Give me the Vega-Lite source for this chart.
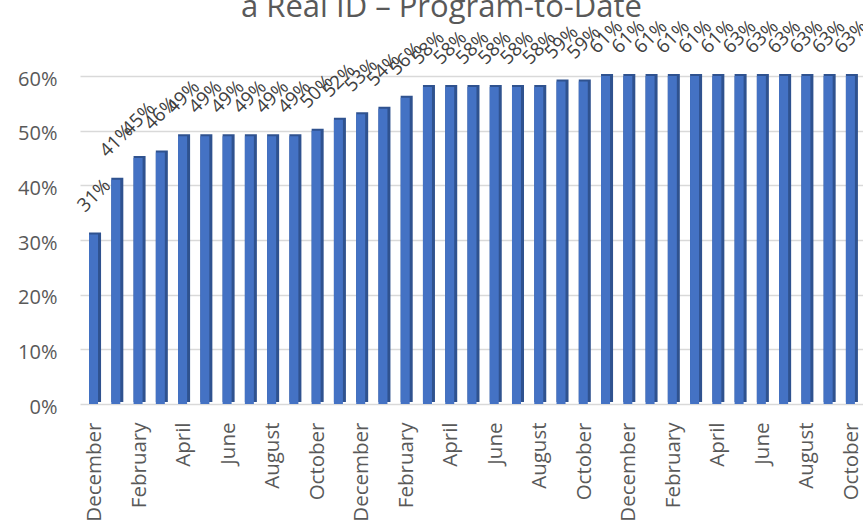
{
  "$schema": "https://vega.github.io/schema/vega-lite/v6.json",
  "autosize": "none",
  "width": 783,
  "height": 328,
  "padding": {"left": 80, "top": 76, "right": 0, "bottom": 119},
  "background": "white",
  "title": {
    "text": "a Real ID – Program-to-Date",
    "font": "Open Sans",
    "fontSize": 31,
    "fontWeight": "normal",
    "color": "#595959",
    "frame": "group",
    "anchor": "middle",
    "baseline": "alphabetic",
    "offset": -31,
    "dx": -30
  },
  "data": {
    "values": [
      {"period": "2017-12", "share": 0.31},
      {"period": "2018-01", "share": 0.41},
      {"period": "2018-02", "share": 0.45},
      {"period": "2018-03", "share": 0.46},
      {"period": "2018-04", "share": 0.49},
      {"period": "2018-05", "share": 0.49},
      {"period": "2018-06", "share": 0.49},
      {"period": "2018-07", "share": 0.49},
      {"period": "2018-08", "share": 0.49},
      {"period": "2018-09", "share": 0.49},
      {"period": "2018-10", "share": 0.50},
      {"period": "2018-11", "share": 0.52},
      {"period": "2018-12", "share": 0.53},
      {"period": "2019-01", "share": 0.54},
      {"period": "2019-02", "share": 0.56},
      {"period": "2019-03", "share": 0.58},
      {"period": "2019-04", "share": 0.58},
      {"period": "2019-05", "share": 0.58},
      {"period": "2019-06", "share": 0.58},
      {"period": "2019-07", "share": 0.58},
      {"period": "2019-08", "share": 0.58},
      {"period": "2019-09", "share": 0.59},
      {"period": "2019-10", "share": 0.59},
      {"period": "2019-11", "share": 0.61},
      {"period": "2019-12", "share": 0.61},
      {"period": "2020-01", "share": 0.61},
      {"period": "2020-02", "share": 0.61},
      {"period": "2020-03", "share": 0.61},
      {"period": "2020-04", "share": 0.61},
      {"period": "2020-05", "share": 0.63},
      {"period": "2020-06", "share": 0.63},
      {"period": "2020-07", "share": 0.63},
      {"period": "2020-08", "share": 0.63},
      {"period": "2020-09", "share": 0.63},
      {"period": "2020-10", "share": 0.63}
    ]
  },
  "encoding": {
    "x": {
      "field": "period",
      "type": "ordinal",
      "sort": null,
      "scale": {"paddingInner": 0.46, "paddingOuter": 0.317, "align": 0.64},
      "axis": {
        "title": null,
        "domain": false,
        "ticks": false,
        "tickSize": 0,
        "labelAngle": -90,
        "labelPadding": 18,
        "labelFont": "Open Sans",
        "labelFontSize": 20.5,
        "labelColor": "#595959",
        "values": ["2017-12", "2018-02", "2018-04", "2018-06", "2018-08", "2018-10", "2018-12", "2019-02", "2019-04", "2019-06", "2019-08", "2019-10", "2019-12", "2020-02", "2020-04", "2020-06", "2020-08", "2020-10"],
        "labelExpr": "timeFormat(datetime(toNumber(slice(datum.value, 0, 4)), toNumber(slice(datum.value, 5, 7)) - 1, 15), '%B')"
      }
    },
    "y": {
      "field": "share",
      "type": "quantitative",
      "scale": {"domain": [0, 0.6], "nice": false, "clamp": true},
      "axis": {
        "title": null,
        "domain": false,
        "ticks": false,
        "tickSize": 0,
        "values": [0, 0.1, 0.2, 0.3, 0.4, 0.5, 0.6],
        "format": ".0%",
        "labelPadding": 23,
        "labelOffset": 3,
        "labelFont": "Open Sans",
        "labelFontSize": 20,
        "labelColor": "#595959",
        "grid": true,
        "gridColor": "#D9D9D9",
        "gridWidth": 1.5
      }
    }
  },
  "layer": [
    {
      "mark": {"type": "bar", "color": "#2F528F", "yOffset": -2, "y2Offset": -2}
    },
    {
      "mark": {"type": "bar", "color": "#4472C4", "width": {"band": 0.75}, "xOffset": -1.5}
    },
    {
      "mark": {
        "type": "text",
        "angle": -45,
        "align": "center",
        "baseline": "middle",
        "font": "Open Sans",
        "fontSize": 19,
        "color": "#404040",
        "yOffset": -39,
        "xOffset": -1
      },
      "encoding": {
        "text": {"field": "share", "type": "quantitative", "format": ".0%"}
      }
    }
  ],
  "config": {
    "view": {"stroke": null}
  }
}
